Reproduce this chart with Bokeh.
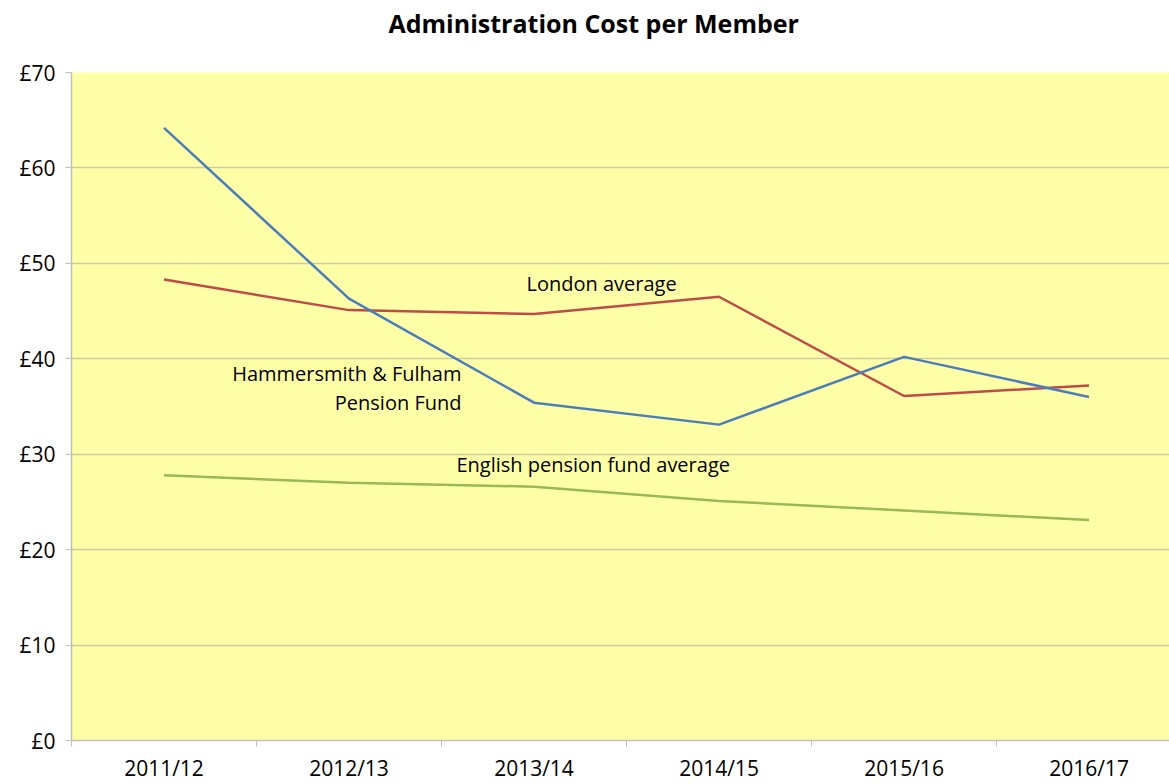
from bokeh.plotting import figure
from bokeh.models import Range1d, FixedTicker, Label, Title
from bokeh.embed import file_html
from bokeh.resources import INLINE

years = ["2011/12", "2012/13", "2013/14", "2014/15", "2015/16", "2016/17"]
hf_fund = [64.2, 46.3, 35.4, 33.1, 40.2, 36.0]
london_avg = [48.3, 45.1, 44.7, 46.5, 36.1, 37.2]
english_avg = [27.8, 27.0, 26.6, 25.1, 24.1, 23.1]
y_ticks = [0, 10, 20, 30, 40, 50, 60, 70]

FONT = "Open Sans"
xs = list(range(len(years)))

p = figure(width=1169, height=784, output_backend="svg", toolbar_location=None,
           x_range=Range1d(-0.5, 5.435), y_range=Range1d(0, 70),
           min_border_left=71, min_border_right=0, min_border_top=72, min_border_bottom=43)

# main title (outer panel)
p.title.text = "Administration Cost per Member"
p.title.align = "left"
p.title.offset = 317
p.title.text_font = FONT
p.title.text_font_size = "25px"
p.title.text_font_style = "bold"
p.title.text_color = "#000000"
p.title.standoff = 0

# spacer title between the main title and the frame
p.add_layout(Title(text=" ", text_font_size="10px", standoff=20), "above")

p.background_fill_color = "#ffffa8"
p.border_fill_color = "white"
p.outline_line_color = None

p.xgrid.grid_line_color = None
p.ygrid.grid_line_color = "#cdc9a0"
p.ygrid.grid_line_width = 1.5
p.ygrid.ticker = FixedTicker(ticks=y_ticks)

xa = p.xaxis[0]
xa.ticker = FixedTicker(ticks=xs, minor_ticks=[i - 0.5 for i in range(len(years) + 1)])
xa.major_label_overrides = {i: y for i, y in enumerate(years)}
xa.major_tick_line_color = None
xa.minor_tick_out = 6
xa.minor_tick_in = 0
xa.minor_tick_line_color = "#bfbfbf"
xa.axis_line_color = "#bfbfbf"
xa.axis_line_width = 1.5
xa.major_label_text_font = FONT
xa.major_label_text_font_size = "21px"
xa.major_label_text_color = "#000000"
xa.major_label_standoff = 7

ya = p.yaxis[0]
ya.ticker = FixedTicker(ticks=y_ticks)
ya.major_label_overrides = {v: "£%d" % v for v in y_ticks}
ya.major_tick_out = 6
ya.major_tick_in = 0
ya.major_tick_line_color = "#bfbfbf"
ya.minor_tick_line_color = None
ya.axis_line_color = "#bfbfbf"
ya.axis_line_width = 1.5
ya.major_label_text_font = FONT
ya.major_label_text_font_size = "21px"
ya.major_label_text_color = "#000000"
ya.major_label_standoff = 10

p.line(xs, english_avg, line_color="#98b954", line_width=2.5)
p.line(xs, london_avg, line_color="#be4b48", line_width=2.5)
p.line(xs, hf_fund, line_color="#4a7ebb", line_width=2.5)

labels = [
    ("London average", 2.365, 47.9, "center"),
    ("Hammersmith & Fulham", 1.608, 38.5, "right"),
    ("Pension Fund", 1.608, 35.4, "right"),
    ("English pension fund average", 2.32, 28.9, "center"),
]
for txt, lx, ly, al in labels:
    p.add_layout(Label(x=lx, y=ly, text=txt, text_align=al, text_baseline="middle",
                       text_font=FONT, text_font_size="20px", text_color="#000000"))

open("out.html", "w").write(file_html(p, INLINE))
